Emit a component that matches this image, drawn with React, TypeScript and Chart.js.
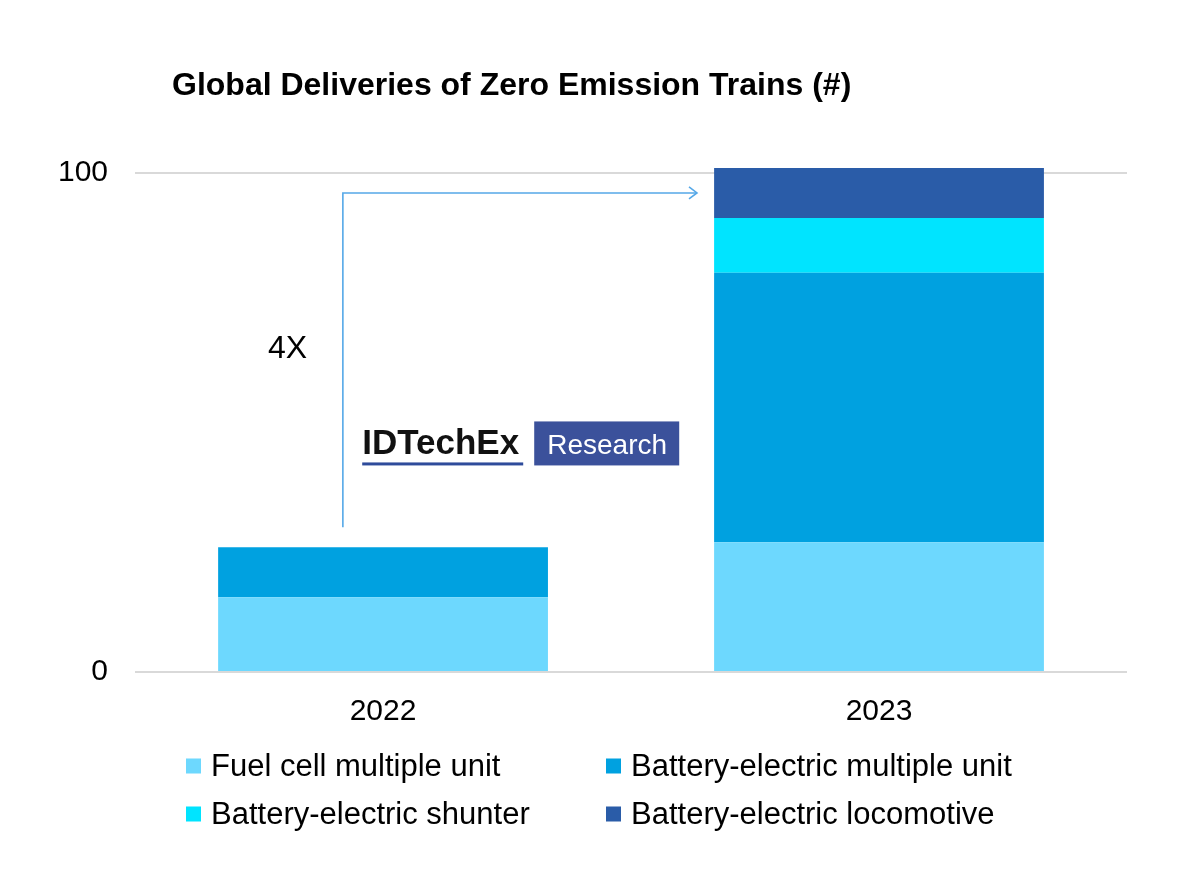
import React, { useEffect, useRef } from "react";
import { Chart, registerables } from "chart.js";

Chart.register(...registerables);

const categories = ["2022", "2023"];
const fuelCellMU = [15, 26];
const batteryElectricMU = [10, 54];
const batteryElectricShunter = [0, 11];
const batteryElectricLoco = [0, 10];
const yTicks = [0, 100];

const titleText = "Global Deliveries of Zero Emission Trains (#)";
const growthLabel = "4X";

const FONT = '"Liberation Sans", Arial, sans-serif';

const overlayPlugin = {
  id: "overlay",
  afterDraw(chart: any) {
    const { ctx, chartArea, scales } = chart;
    const xs = scales.x;
    const ys = scales.y;
    ctx.save();

    // Title
    ctx.fillStyle = "#000";
    ctx.font = `bold 32px ${FONT}`;
    ctx.textAlign = "left";
    ctx.textBaseline = "alphabetic";
    ctx.fillText(titleText, 172, 95);

    // Arrow annotation
    const ax = xs.getPixelForValue(-0.081);
    const ay0 = ys.getPixelForValue(29);
    const ay1 = ys.getPixelForValue(96);
    const ax1 = xs.getPixelForValue(0.633);
    ctx.strokeStyle = "#55a8e8";
    ctx.lineWidth = 1.6;
    ctx.beginPath();
    ctx.moveTo(ax, ay0);
    ctx.lineTo(ax, ay1);
    ctx.lineTo(ax1, ay1);
    ctx.stroke();
    ctx.beginPath();
    ctx.moveTo(ax1 - 8, ay1 - 6);
    ctx.lineTo(ax1, ay1);
    ctx.lineTo(ax1 - 8, ay1 + 6);
    ctx.stroke();

    // 4X
    ctx.fillStyle = "#000";
    ctx.font = `32px ${FONT}`;
    ctx.fillText(growthLabel, xs.getPixelForValue(-0.232), ys.getPixelForValue(63));

    // Logo
    const lx = xs.getPixelForValue(-0.042);
    const lb = ys.getPixelForValue(43.6);
    ctx.font = `bold 35px ${FONT}`;
    ctx.fillStyle = "#111";
    ctx.fillText("IDTechEx", lx, lb);
    ctx.fillStyle = "#2e4b9b";
    ctx.fillRect(lx, lb + 8, 161, 3);
    ctx.fillStyle = "#3b519b";
    ctx.fillRect(lx + 172, lb - 33, 145, 44);
    ctx.fillStyle = "#fff";
    ctx.font = `28px ${FONT}`;
    ctx.fillText("Research", lx + 185, lb);

    // Legend (2 columns)
    const ds = chart.data.datasets;
    const colX = [186, 606];
    const rowY = [chartArea.bottom + 94, chartArea.bottom + 142];
    ctx.font = `31px ${FONT}`;
    ctx.textBaseline = "middle";
    ds.forEach((d: any, i: number) => {
      const cx = colX[i % 2];
      const cy = rowY[Math.floor(i / 2)];
      ctx.fillStyle = d.backgroundColor;
      ctx.fillRect(cx, cy - 7.5, 15, 15);
      ctx.fillStyle = "#000";
      ctx.fillText(d.label, cx + 25, cy + 1);
    });

    ctx.restore();
  },
};

export default function App() {
  const ref = useRef<HTMLCanvasElement>(null);
  useEffect(() => {
    if (!ref.current) return;
    const chart = new Chart(ref.current, {
      type: "bar",
      data: {
        labels: categories,
        datasets: [
          { label: "Fuel cell multiple unit", data: fuelCellMU, backgroundColor: "#6dd8fe" },
          { label: "Battery-electric multiple unit", data: batteryElectricMU, backgroundColor: "#00a1e0" },
          { label: "Battery-electric shunter", data: batteryElectricShunter, backgroundColor: "#00e4ff" },
          { label: "Battery-electric locomotive", data: batteryElectricLoco, backgroundColor: "#2a5ca8" },
        ].map((d) => ({ ...d, barPercentage: 0.665, categoryPercentage: 1, clip: false as any })),
      },
      options: {
        responsive: false,
        animation: false,
        devicePixelRatio: 1,
        layout: { padding: { left: 31, right: 73, top: 173, bottom: 149 } },
        plugins: {
          legend: { display: false },
          title: { display: false },
          tooltip: { enabled: false },
        },
        scales: {
          x: {
            stacked: true,
            grid: { display: false },
            border: { display: false },
            ticks: { color: "#000", font: { family: FONT, size: 30 }, padding: 14 },
          },
          y: {
            stacked: true,
            min: 0,
            max: 100,
            afterBuildTicks: (s: any) => {
              s.ticks = yTicks.map((v) => ({ value: v }));
            },
            grid: { color: "#d9d9d9", lineWidth: 2, drawTicks: false },
            border: { display: false },
            ticks: { color: "#000", font: { family: FONT, size: 30 }, padding: 27 },
          },
        },
      },
      plugins: [overlayPlugin],
    });
    return () => chart.destroy();
  }, []);
  return (
    <div style={{ position: "fixed", left: 0, top: 0, width: 1200, height: 893, background: "#fff" }}>
      <canvas ref={ref} width={1200} height={893} style={{ width: 1200, height: 893 }} />
    </div>
  );
}
